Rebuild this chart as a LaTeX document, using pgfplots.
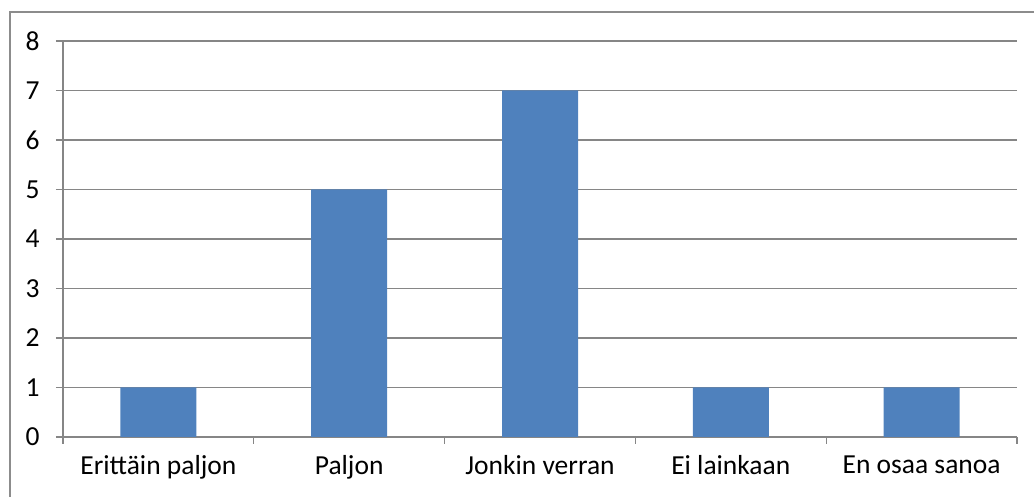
\documentclass[border=0pt]{standalone}
\usepackage{pgfplots}
\pgfplotsset{compat=1.18}
\usepackage{fontspec}
\setmainfont{Carlito}
\definecolor{barblue}{HTML}{4F81BD}
\definecolor{gridgray}{HTML}{868686}
\definecolor{framegray}{HTML}{8C8C8C}
\begin{document}
\begin{tikzpicture}
\begin{axis}[
  scale only axis, width=954pt, height=396pt,
  xmin=-0.5, xmax=4.5, ymin=0, ymax=8,
  ytick={0,...,8},
  % tick marks on the category boundaries
  xtick={-0.5,0.5,1.5,2.5,3.5,4.5},
  xticklabels={},
  % category names centred under the bars
  extra x ticks={0,1,2,3,4},
  extra x tick labels={Erittäin paljon,Paljon,Jonkin verran,Ei lainkaan,En osaa sanoa},
  extra x tick style={tick style={draw=none}, grid=none,
    tick label style={yshift=-8pt}},
  ymajorgrids, grid style={gridgray,line width=1.2pt},
  axis x line*=bottom, axis y line*=left,
  axis line style={gridgray,line width=1.2pt},
  y axis line style={-}, x axis line style={-},
  tick style={gridgray,line width=1.2pt},
  major tick length=7pt,
  tick align=outside,
  tick label style={font=\fontsize{27.5}{32}\selectfont, text=black},
  /pgf/number format/assume math mode=true,
  y tick label style={xshift=-13pt},
  clip=false,
]
\coordinate (o) at (rel axis cs:0,0);
\addplot[ybar, bar width=76pt, fill=barblue, draw=none]
  coordinates {(0,1) (1,5) (2,7) (3,1) (4,1)};
\end{axis}
\pgfresetboundingbox
\useasboundingbox ([shift={(-63pt,-60pt)}]o) rectangle ++(1034pt,497pt);
% chart frame (runs past the right and bottom edges)
\draw[framegray,line width=1.2pt]
  ([shift={(-53pt,-80pt)}]o) -- ([shift={(-53pt,425pt)}]o) -- ([shift={(1000pt,425pt)}]o);
\end{tikzpicture}
\end{document}
